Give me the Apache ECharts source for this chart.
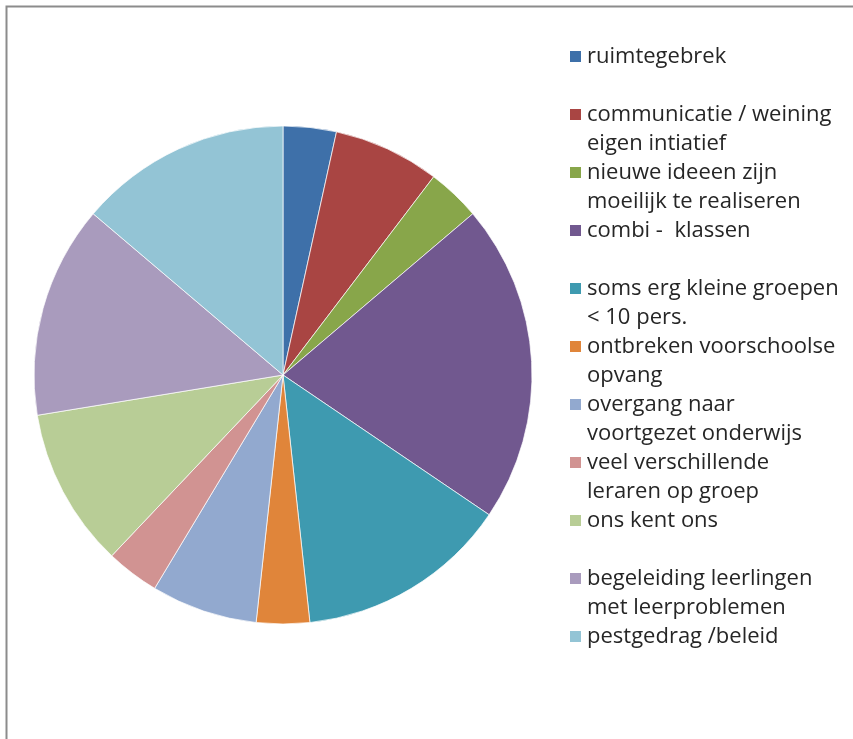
<!DOCTYPE html>
<html>
<head>
<meta charset="utf-8">
<script src="https://cdn.jsdelivr.net/npm/echarts@6/dist/echarts.min.js"></script>
<style>
  html, body { margin: 0; padding: 0; background: #fff; }
  #chart { width: 853px; height: 739px; }
</style>
</head>
<body>
<div id="chart"></div>
<script>
// categorieen (zoals in de legenda)
var categories = [
  'ruimtegebrek',
  'communicatie / weining eigen intiatief',
  'nieuwe ideeen zijn moeilijk te realiseren',
  'combi -  klassen',
  'soms erg kleine groepen < 10 pers.',
  'ontbreken voorschoolse opvang',
  'overgang naar voortgezet onderwijs',
  'veel verschillende leraren op groep',
  'ons kent ons',
  'begeleiding leerlingen met leerproblemen',
  'pestgedrag /beleid'
]
// legenda tekst, twee regels per item
var legendLines = [
  ['ruimtegebrek', ' '],
  ['communicatie / weining', 'eigen intiatief'],
  ['nieuwe ideeen zijn', 'moeilijk te realiseren'],
  ['combi -  klassen', ' '],
  ['soms erg kleine groepen', '< 10 pers.'],
  ['ontbreken voorschoolse', 'opvang'],
  ['overgang naar', 'voortgezet onderwijs'],
  ['veel verschillende', 'leraren op groep'],
  ['ons kent ons', ' '],
  ['begeleiding leerlingen', 'met leerproblemen'],
  ['pestgedrag /beleid', ' ']
]
var counts = [1, 2, 1, 6, 4, 1, 2, 1, 3, 4, 4]
var colors = ['#3e70a9', '#a94543', '#88a64a', '#71588f', '#3e9ab0', '#e0853a',
  '#92a9cf', '#d19392', '#b8cd96', '#a99bbd', '#93c4d5']

var chart = echarts.init(document.getElementById('chart'))
var lineH = 29

var option = {
  animation: false,
  color: colors,
  graphic: [
    {
      type: 'rect',
      shape: { x: 6.5, y: 6.5, width: 1000, height: 1000 },
      style: { fill: 'none', stroke: '#8c8c8c', lineWidth: 2 },
      silent: true
    }
  ],
  legend: {
    orient: 'vertical',
    left: 568,
    top: 13,
    padding: 0,
    icon: 'rect',
    itemWidth: 13,
    itemHeight: 13,
    itemGap: -lineH,
    textStyle: {
      fontFamily: 'Open Sans',
      fontSize: 22,
      color: '#262626',
      lineHeight: lineH
    },
    // lege eerste regel zodat het blokje bij de eerste tekstregel staat
    formatter: function (name) {
      var i = categories.indexOf(name)
      return ' \n' + legendLines[i].join('\n')
    },
    data: categories
  },
  series: [
    {
      type: 'pie',
      center: [283, 375],
      radius: 249,
      startAngle: 90,
      clockwise: true,
      label: { show: false },
      labelLine: { show: false },
      itemStyle: { borderColor: '#fff', borderWidth: 0.7 },
      emphasis: { disabled: true },
      data: categories.map(function (c, i) {
        return { name: c, value: counts[i] }
      })
    }
  ]
}
chart.setOption(option)
</script>
</body>
</html>
